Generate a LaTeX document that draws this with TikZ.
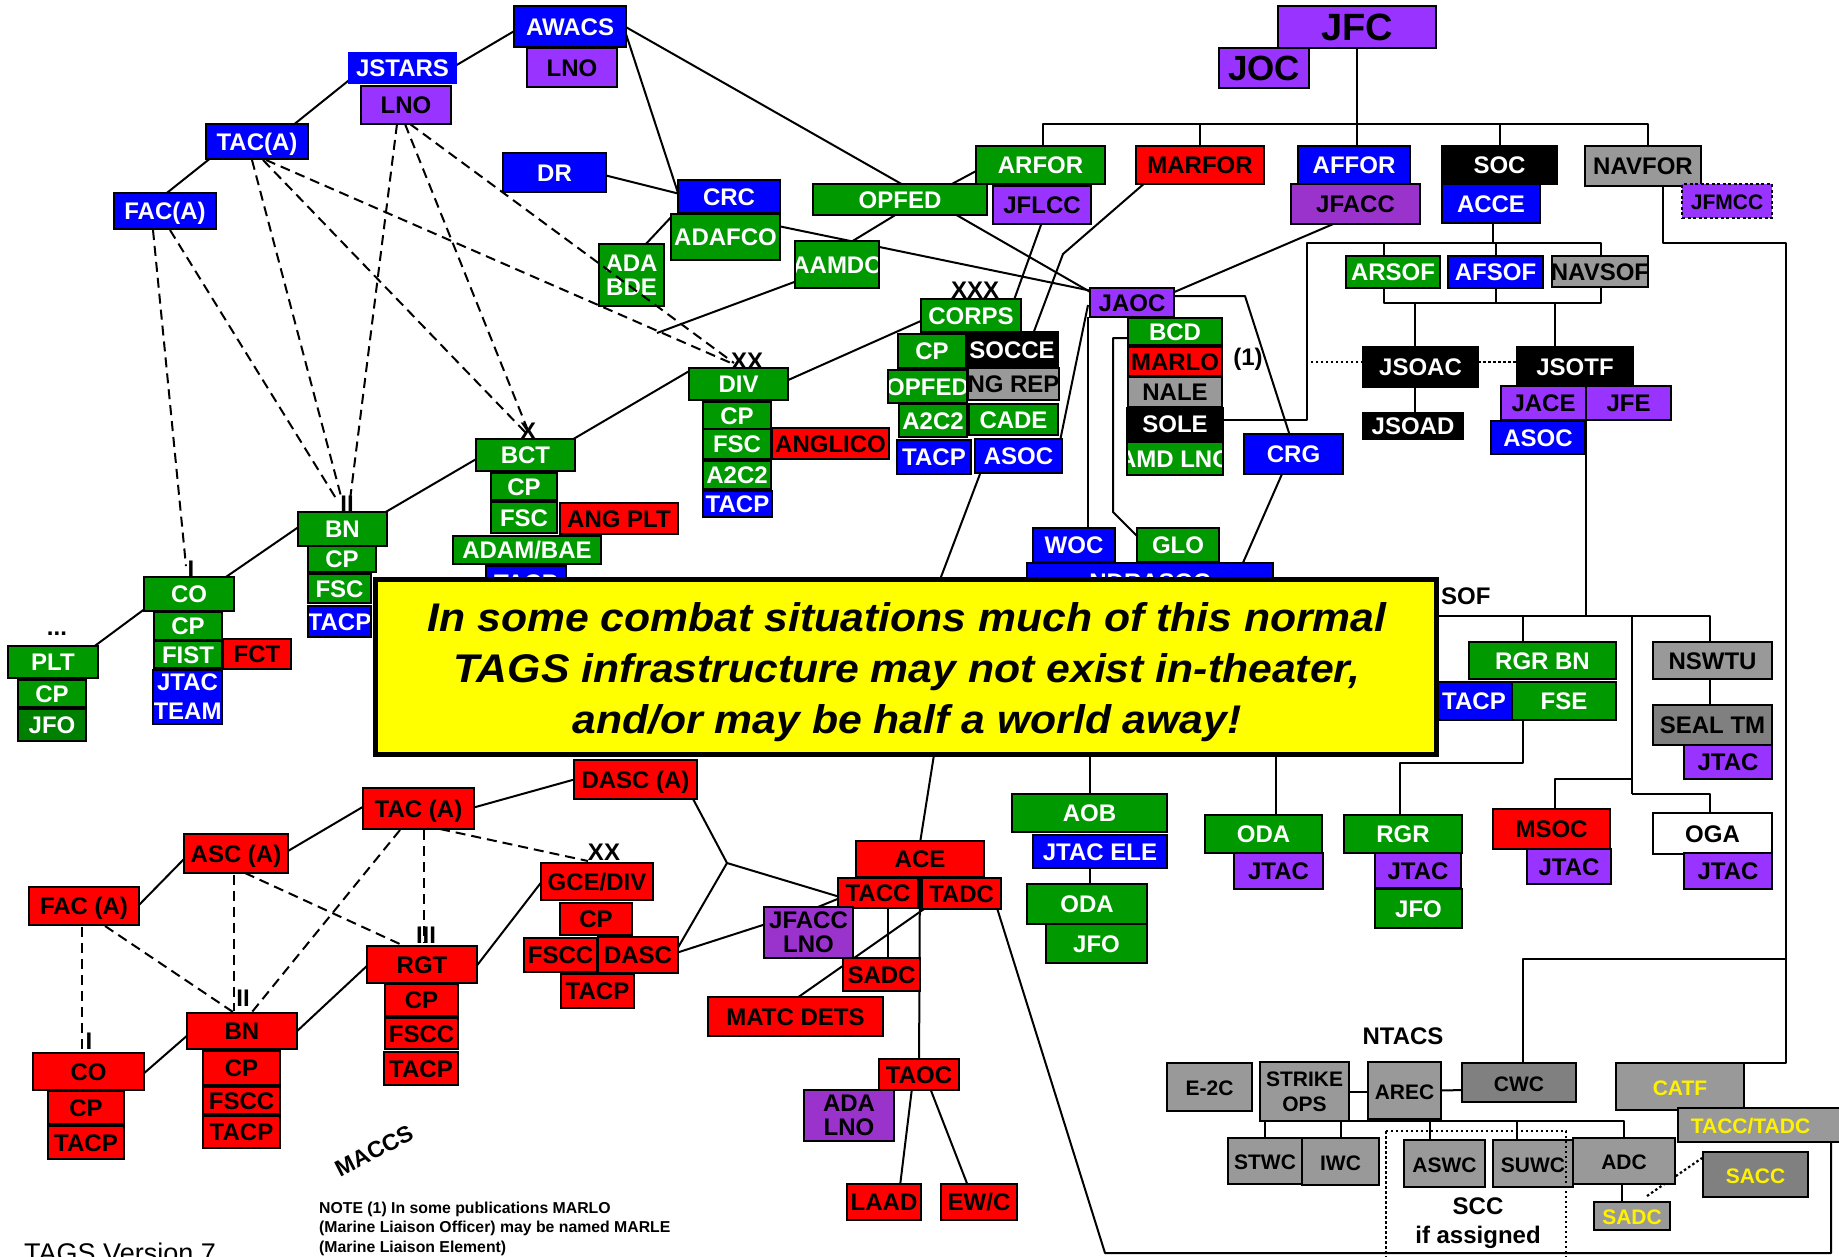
\documentclass[tikz,border=0pt]{standalone}
\usepackage{fontspec}
\setmainfont{Liberation Sans}
\usepackage{graphicx}
\usetikzlibrary{calc}
\definecolor{cblue}{RGB}{0,0,255}
\definecolor{cgreen}{RGB}{0,153,0}
\definecolor{cgreend}{RGB}{0,128,0}
\definecolor{cred}{RGB}{255,0,0}
\definecolor{cpurp}{RGB}{153,51,255}
\definecolor{cpurpd}{RGB}{153,51,204}
\definecolor{cgray}{RGB}{153,153,153}
\definecolor{cgrayd}{RGB}{128,128,128}
\definecolor{cyel}{RGB}{255,255,0}
\pgfdeclarelayer{bg}
\pgfsetlayers{bg,main}
\tikzset{
  bx/.style={rectangle,draw=black,line width=2.4pt,inner sep=0pt,outer sep=0pt},
  txt/.style={inner sep=0pt,outer sep=0pt,draw=none,fill=none,font=\bfseries\fontsize{24}{26}\selectfont,text height=17.2pt,text depth=0pt},
  txtm/.style={inner sep=0pt,outer sep=0pt,draw=none,fill=none,font=\bfseries\fontsize{24}{24}\selectfont,align=center},
  lbl/.style={inner sep=0pt,font=\bfseries\fontsize{24}{26}\selectfont},
  ln/.style={line width=2pt,line join=round},
  dsh/.style={line width=2pt,dash pattern=on 10pt off 6pt},
  dotl/.style={line width=2.2pt,dash pattern=on 2.5pt off 2.5pt},
}
\newcommand\nf{\bfseries\fontsize{21}{25}\selectfont}
\newcommand\mybox[9][]{%
  \node[bx,fill=#7,minimum width={(#5-#3)*1pt},minimum height={(#6-#4)*1pt},#1,
    path picture={\node[txt,text=#8,#1] at (path picture bounding box.center) {#9};}]
    (#2) at ({(#3+#5)/2},{(#4+#6)/2}) {};}
\newcommand\myboxm[9][]{%
  \node[bx,fill=#7,minimum width={(#5-#3)*1pt},minimum height={(#6-#4)*1pt},#1,
    path picture={\node[txtm,text=#8,#1] at (path picture bounding box.center) {#9};}]
    (#2) at ({(#3+#5)/2},{(#4+#6)/2}) {};}
\begin{document}
\begin{tikzpicture}[x=1pt,y=-1pt]
\begin{pgfonlayer}{bg}
\fill[white] (0,0) rectangle (1839,1256);
\end{pgfonlayer}
\useasboundingbox (0,0) rectangle (1839,1256);

% ---------- Army / air (top left)
\mybox[draw=none]{jstars}{348}{52}{457}{84}{cblue}{white}{JSTARS}
\mybox{jlno}{361}{86}{451}{124}{cpurp}{black}{LNO}
\mybox{taca}{206}{124}{308}{159}{cblue}{white}{TAC(A)}
\mybox{faca}{114}{193}{216}{229}{cblue}{white}{FAC(A)}
\mybox{awacs}{514}{6}{626}{47}{cblue}{white}{AWACS}
\mybox{alno}{527}{48}{617}{87}{cpurp}{black}{LNO}
\mybox{dr}{503}{153}{606}{192}{cblue}{white}{DR}
\mybox{crc}{678}{180}{780}{213}{cblue}{white}{CRC}
\mybox{adafco}{671}{214}{780}{260}{cgreen}{white}{ADAFCO}
\myboxm{adabde}{599}{244}{664}{306}{cgreen}{white}{ADA\\BDE}
\mybox{opfed}{813}{184}{987}{215}{cgreen}{white}{OPFED}
\mybox{aamdc}{795}{241}{879}{288}{cgreen}{white}{AAMDC}
\mybox{arfor}{976}{146}{1105}{184}{cgreen}{white}{ARFOR}
\mybox{jflcc}{993}{186}{1091}{224}{cpurp}{black}{JFLCC}
\mybox{marfor}{1136}{146}{1264}{184}{cred}{black}{MARFOR}
\mybox{affor}{1298}{146}{1410}{184}{cblue}{white}{AFFOR}
\mybox{jfacc}{1291}{184}{1420}{224}{cpurpd}{black}{JFACC}
\mybox{soc}{1442}{146}{1557}{184}{black}{white}{SOC}
\mybox{acce}{1442}{184}{1540}{223}{cblue}{white}{ACCE}
\mybox{navfor}{1585}{146}{1701}{186}{cgray}{black}{NAVFOR}
\mybox[dash pattern=on 3pt off 2.5pt,font=\nf]{jfmcc}{1682}{184}{1772}{218}{cpurp}{black}{JFMCC}
\myboxm[font=\bfseries\fontsize{38}{38}\selectfont]{jfc}{1278}{6}{1436}{48}{cpurp}{black}{JFC}
\myboxm[font=\bfseries\fontsize{35}{35}\selectfont]{joc}{1219}{48}{1309}{88}{cpurp}{black}{JOC}

% ---------- Corps
\mybox{corps}{921}{299}{1021}{332}{cgreen}{white}{CORPS}
\mybox{ccp}{898}{334}{966}{368}{cgreen}{white}{CP}
\mybox{socce}{966}{332}{1058}{368}{black}{white}{SOCCE}
\mybox{opfedb}{888}{370}{967}{403}{cgreen}{white}{OPFED}
\mybox{ngrep}{968}{368}{1059}{400}{cgray}{black}{NG REP}
\mybox{ca2c2}{899}{404}{967}{437}{cgreen}{white}{A2C2}
\mybox{cade}{969}{404}{1058}{435}{cgreen}{white}{CADE}
\mybox{ctacp}{897}{440}{971}{474}{cblue}{white}{TACP}
\mybox{asocc}{975}{439}{1062}{473}{cblue}{white}{ASOC}
% ---------- Div
\mybox{div}{689}{368}{788}{400}{cgreen}{white}{DIV}
\mybox{dcp}{703}{402}{771}{429}{cgreen}{white}{CP}
\mybox{dfsc}{703}{429}{771}{459}{cgreen}{white}{FSC}
\mybox{anglico}{772}{428}{889}{459}{cred}{black}{ANGLICO}
\mybox{da2c2}{703}{461}{771}{489}{cgreen}{white}{A2C2}
\mybox{dtacp}{703}{491}{772}{517}{cblue}{white}{TACP}
% ---------- BCT
\mybox{bct}{476}{439}{575}{471}{cgreen}{white}{BCT}
\mybox{bcp}{491}{473}{557}{500}{cgreen}{white}{CP}
\mybox{bfsc}{491}{502}{557}{533}{cgreen}{white}{FSC}
\mybox{angplt}{560}{503}{678}{534}{cred}{black}{ANG PLT}
\mybox{btacp}{486}{566}{566}{600}{cblue}{white}{TACP}
\mybox{adam}{453}{536}{601}{564}{cgreen}{white}{ADAM/BAE}
% ---------- BN
\mybox{bn}{298}{512}{387}{546}{cgreen}{white}{BN}
\mybox{ncp}{308}{546}{376}{572}{cgreen}{white}{CP}
\mybox{nfsc}{308}{574}{371}{603}{cgreen}{white}{FSC}
\mybox{ntacp}{308}{606}{371}{637}{cblue}{white}{TACP}
% ---------- CO
\mybox{co}{144}{577}{234}{611}{cgreen}{white}{CO}
\mybox{ocp}{154}{612}{222}{640}{cgreen}{white}{CP}
\mybox{fist}{154}{641}{222}{668}{cgreen}{white}{FIST}
\mybox{fct}{223}{639}{291}{669}{cred}{black}{FCT}
\myboxm{jtacteam}{153}{670}{222}{724}{cblue}{white}{JTAC\\[5pt]TEAM}
% ---------- PLT
\mybox{plt}{8}{646}{98}{678}{cgreen}{white}{PLT}
\mybox{pcp}{18}{680}{86}{707}{cgreen}{white}{CP}
\mybox{pjfo}{18}{709}{86}{741}{cgreend}{white}{JFO}

% ---------- JAOC
\mybox{jaoc}{1090}{288}{1174}{317}{cpurp}{black}{JAOC}
\mybox{bcd}{1128}{318}{1222}{345}{cgreen}{white}{BCD}
\mybox{marlo}{1128}{347}{1222}{376}{cred}{black}{MARLO}
\mybox{nale}{1128}{377}{1222}{407}{cgray}{black}{NALE}
\mybox{sole}{1127}{408}{1223}{440}{black}{white}{SOLE}
\mybox{amdlno}{1127}{442}{1223}{475}{cgreen}{white}{AMD LNO}
\mybox{crg}{1244}{434}{1343}{474}{cblue}{white}{CRG}
\mybox{ndr}{1027}{563}{1273}{600}{cblue}{white}{NDRASOC}
\mybox{woc}{1033}{528}{1115}{562}{cblue}{white}{WOC}
\mybox{glo}{1137}{528}{1219}{562}{cgreen}{white}{GLO}

% ---------- SOF
\mybox{arsof}{1346}{256}{1440}{288}{cgreen}{white}{ARSOF}
\mybox{afsof}{1448}{256}{1543}{288}{cblue}{white}{AFSOF}
\mybox{navsof}{1552}{256}{1648}{287}{cgray}{black}{NAVSOF}
\mybox{jsoac}{1363}{347}{1478}{387}{black}{white}{JSOAC}
\mybox{jsoad}{1363}{413}{1463}{439}{black}{white}{JSOAD}
\mybox{jsotf}{1517}{347}{1633}{386}{black}{white}{JSOTF}
\mybox{jace}{1501}{386}{1586}{420}{cpurp}{black}{JACE}
\mybox{jfe}{1586}{386}{1671}{420}{cpurp}{black}{JFE}
\mybox{sasoc}{1491}{421}{1585}{454}{cblue}{white}{ASOC}
\mybox{rgrbn}{1469}{642}{1616}{679}{cgreen}{white}{RGR BN}
\mybox{rtacp}{1436}{682}{1512}{720}{cblue}{white}{TACP}
\mybox{fse}{1512}{682}{1616}{720}{cgreen}{white}{FSE}
\mybox{nswtu}{1653}{642}{1772}{679}{cgray}{black}{NSWTU}
\mybox{sealtm}{1653}{705}{1772}{745}{cgrayd}{black}{SEAL TM}
\mybox{sjtac}{1684}{745}{1772}{779}{cpurp}{black}{JTAC}
\mybox{odaa}{1205}{815}{1322}{853}{cgreen}{white}{ODA}
\mybox{ojtac}{1234}{853}{1323}{889}{cpurp}{black}{JTAC}
\mybox{rgr}{1344}{815}{1462}{853}{cgreen}{white}{RGR}
\mybox{rjtac}{1375}{853}{1461}{888}{cpurp}{black}{JTAC}
\mybox{rjfo}{1375}{889}{1462}{928}{cgreen}{white}{JFO}
\mybox{msoc}{1493}{809}{1610}{849}{cred}{black}{MSOC}
\mybox{mjtac}{1527}{849}{1611}{884}{cpurp}{black}{JTAC}
\mybox{oga}{1653}{813}{1772}{854}{white}{black}{OGA}
\mybox{gjtac}{1684}{853}{1772}{889}{cpurp}{black}{JTAC}
\mybox{aob}{1012}{794}{1167}{832}{cgreen}{white}{AOB}
\mybox{jtacele}{1033}{835}{1167}{868}{cblue}{white}{JTAC ELE}
\mybox{odab}{1027}{884}{1147}{924}{cgreen}{white}{ODA}
\mybox{jfob}{1046}{924}{1147}{963}{cgreen}{white}{JFO}

% ---------- Navy
\mybox[font=\nf]{etwoc}{1167}{1063}{1252}{1111}{cgray}{black}{E-2C}
\myboxm[font=\nf]{strike}{1260}{1062}{1349}{1121}{cgray}{black}{STRIKE\\OPS}
\mybox[font=\nf]{arec}{1368}{1062}{1441}{1119}{cgray}{black}{AREC}
\mybox[font=\nf]{cwc}{1462}{1063}{1576}{1102}{cgrayd}{black}{CWC}
\mybox[font=\nf]{stwc}{1228}{1138}{1302}{1184}{cgray}{black}{STWC}
\mybox[font=\nf]{iwc}{1302}{1138}{1379}{1185}{cgray}{black}{IWC}
\mybox[font=\nf]{aswc}{1404}{1140}{1485}{1187}{cgray}{black}{ASWC}
\mybox[font=\nf]{suwc}{1493}{1140}{1573}{1187}{cgray}{black}{SUWC}
\mybox[font=\nf]{adc}{1573}{1138}{1675}{1184}{cgray}{black}{ADC}
\mybox[font=\nf]{nsadc}{1594}{1202}{1670}{1230}{cgray}{yellow}{SADC}
\mybox[font=\nf]{catf}{1616}{1063}{1744}{1110}{cgray}{yellow}{CATF}
\mybox[font=\nf]{tacctadc}{1678}{1108}{1843}{1142}{cgray}{yellow}{\hspace*{-20pt}TACC/TADC}
\mybox[font=\nf]{sacc}{1703}{1152}{1808}{1197}{cgrayd}{yellow}{SACC}

% ---------- USMC
\mybox{rfaca}{29}{887}{139}{925}{cred}{black}{FAC (A)}
\mybox{asca}{184}{834}{288}{873}{cred}{black}{ASC (A)}
\mybox{rtaca}{363}{788}{474}{829}{cred}{black}{TAC (A)}
\mybox{dasca}{574}{760}{697}{799}{cred}{black}{DASC (A)}
\mybox{rco}{33}{1053}{144}{1090}{cred}{black}{CO}
\mybox{rcocp}{48}{1091}{124}{1124}{cred}{black}{CP}
\mybox{rcotacp}{48}{1126}{124}{1159}{cred}{black}{TACP}
\mybox{rbn}{187}{1013}{297}{1049}{cred}{black}{BN}
\mybox{rbncp}{203}{1051}{280}{1085}{cred}{black}{CP}
\mybox{rbnfscc}{203}{1087}{280}{1114}{cred}{black}{FSCC}
\mybox{rbntacp}{203}{1116}{280}{1148}{cred}{black}{TACP}
\mybox{rgt}{367}{946}{477}{983}{cred}{black}{RGT}
\mybox{rgtcp}{385}{984}{458}{1016}{cred}{black}{CP}
\mybox{rgtfscc}{385}{1018}{458}{1049}{cred}{black}{FSCC}
\mybox{rgttacp}{384}{1052}{458}{1085}{cred}{black}{TACP}
\mybox{gce}{541}{863}{653}{900}{cred}{black}{GCE/DIV}
\mybox{gcp}{560}{903}{632}{935}{cred}{black}{CP}
\mybox{fscc}{524}{938}{597}{972}{cred}{black}{FSCC}
\mybox{dasc}{598}{937}{678}{973}{cred}{black}{DASC}
\mybox{gtacp}{561}{974}{634}{1008}{cred}{black}{TACP}
\mybox{ace}{856}{841}{984}{877}{cred}{black}{ACE}
\mybox{tacc}{838}{878}{918}{908}{cred}{black}{TACC}
\mybox{tadc}{922}{878}{1001}{909}{cred}{black}{TADC}
\myboxm{jfacclno}{764}{907}{853}{958}{cpurpd}{black}{JFACC\\LNO}
\mybox{sadc}{843}{958}{920}{991}{cred}{black}{SADC}
\mybox{matc}{708}{997}{883}{1036}{cred}{black}{MATC DETS}
\mybox{taoc}{879}{1059}{959}{1090}{cred}{black}{TAOC}
\myboxm{adalno}{804}{1090}{894}{1141}{cpurpd}{black}{ADA\\LNO}
\mybox{laad}{847}{1184}{921}{1220}{cred}{black}{LAAD}
\mybox{ewc}{941}{1184}{1017}{1220}{cred}{black}{EW/C}

% ---------- coordinates for bends / free ends
\coordinate (aamdcend) at (657,333);
\coordinate (jbL) at (1043,124); \coordinate (jbR) at (1648,124);
\coordinate (mb) at (1063,254);
\coordinate (cb) at (1245,296);
\coordinate (bg1) at (1113,338); \coordinate (bg2) at (1113,512);
\coordinate (hb1) at (905,672); \coordinate (hb2) at (949,660);
\coordinate (hob) at (1090,740); \coordinate (hoda) at (1276,740);
\coordinate (sbL) at (1307,243); \coordinate (sbR) at (1601,243);
\coordinate (accb) at ([shift={(51,0)}]acce.south west);
\coordinate (lbus) at (1500,303);
\coordinate (dj) at ([shift={(0,15)}]jsoac.north west);
\coordinate (fbusL) at (1420,616); \coordinate (fbusR) at (1710,616);
\coordinate (mo1) at (1632,779); \coordinate (mo2) at (1632,794);
\coordinate (fr) at (1460,763);
\coordinate (nv1) at (1786,243); \coordinate (nv2) at (1786,959);
\coordinate (bt1) at (1105,1253);
\coordinate (nb) at (1624,1121);
\coordinate (jn) at (727,863);

\begin{pgfonlayer}{bg}
% army air
\draw[ln] ([shift={(5,25)}]jstars.north west) -- ([shift={(86,2)}]taca.north west);
\draw[ln] ([shift={(6,33)}]taca.north west) -- ([shift={(49,3)}]faca.north west);
\draw[ln] ([shift={(107,14)}]jstars.north west) -- ([shift={(2,24)}]awacs.north west);
\draw[ln] ([shift={(110,22)}]awacs.north west) -- ([shift={(1,16)}]crc.north west);
\draw[ln] ([shift={(110,20)}]awacs.north west) -- ([shift={(92,2)}]opfed.north west);
\draw[ln] ([shift={(101,22)}]dr.north west) -- ([shift={(2,14)}]crc.north west);
\draw[ln] ([shift={(3,0)}]adafco.north west) -- ([shift={(45,2)}]adabde.north west);
\draw[ln] ([shift={(107,12)}]adafco.north west) -- ([shift={(2,3)}]jaoc.north west);
\draw[ln] ([shift={(84,30)}]opfed.north west) -- ([shift={(56,1)}]aamdc.north west);
\draw[ln] ([shift={(137,1)}]opfed.north west) -- ([shift={(2,24)}]arfor.north west);
\draw[ln] ([shift={(140,29)}]opfed.north west) -- ([shift={(2,5)}]jaoc.north west);
\draw[ln] ([shift={(2,40)}]aamdc.north west) -- (aamdcend);
% JFC bus
\draw[ln] (jfc.south) -- (jfc.south |- affor.north);
\draw[ln] (jbL |- arfor.north) -- (jbL) -- (jbR) -- (jbR |- navfor.north);
\draw[ln] (marfor.north) -- (marfor.north |- jbL);
\draw[ln] (soc.north) -- (soc.north |- jbL);
% army ground
\draw[ln] ([shift={(84,2)}]plt.north west) -- ([shift={(2,31)}]co.north west);
\draw[ln] ([shift={(79,2)}]co.north west) -- ([shift={(2,14)}]bn.north west);
\draw[ln] ([shift={(86,1)}]bn.north west) -- ([shift={(2,19)}]bct.north west);
\draw[ln] ([shift={(94,2)}]bct.north west) -- ([shift={(2,2)}]div.north west);
\draw[ln] ([shift={(97,13)}]div.north west) -- ([shift={(2,21)}]corps.north west);
\draw[ln] ([shift={(49,36)}]jflcc.north west) -- ([shift={(93,1)}]corps.north west);
\draw[ln] ([shift={(10,36)}]marfor.north west) -- (mb) -- ([shift={(67,2)}]socce.north west);
\draw[ln] ([shift={(47,38)}]jfacc.north west) -- ([shift={(82,5)}]jaoc.north west);
\draw[ln] ([shift={(82,8)}]jaoc.north west) -- (cb) -- ([shift={(46,2)}]crg.north west);
\draw[ln] ([shift={(-2,17)}]jaoc.north west) -- ([shift={(85,2)}]asocc.north west);
\draw[ln] ([shift={(-2,0)}]jaoc.south west) -- ([shift={(55,2)}]woc.north west);
\draw[ln] ([shift={(2,20)}]bcd.north west) -- (bg1) -- (bg2) -- ([shift={(2,10)}]glo.north west);
\draw[ln] ([shift={(5,35)}]asocc.north west) -- (hb1) -- (hb2) -- ([shift={(64,2)}]ace.north west);
\draw[ln] ([shift={(38,40)}]crg.north west) -- ([shift={(215,2)}]ndr.north west);
\draw[ln] (hob) -- ([shift={(78,2)}]aob.north west);
\draw[ln] (hoda) -- ([shift={(71,2)}]odaa.north west);
\draw[ln] ([shift={(57,31)}]jtacele.north west) -- ([shift={(63,2)}]odab.north west);
% SOF
\draw[ln] (accb) -- (accb |- sbL);
\draw[ln] ([shift={(-2,12)}]sole.north east) -| (sbL) -- (sbR) -- ([shift={(49,2)}]navsof.north west);
\draw[ln] ([shift={(38,2)}]arsof.north west) |- (sbL);
\draw[ln] (afsof.north) |- (sbL);
\draw[ln] ([shift={(38,-2)}]arsof.south west) |- (lbus) -| ([shift={(49,-2)}]navsof.south west);
\draw[ln] (afsof.south) |- (lbus);
\draw[ln] ([shift={(52,0)}]jsoac.north west) |- (lbus);
\draw[ln] ([shift={(38,0)}]jsotf.north west) |- (lbus);
\draw[ln] ([shift={(52,0)}]jsoac.south west) -- ([shift={(52,0)}]jsoad.north west);
\draw[dotl] (dj) -- (dj -| sbL);
\draw[dotl] ([shift={(0,15)}]jsoac.north east) -- ([shift={(0,15)}]jsotf.north west);
\draw[ln] (jace.south east) -- (jace.south east |- fbusL);
\draw[ln] (fbusL) -- (fbusR) -- ([shift={(57,2)}]nswtu.north west);
\draw[ln] ([shift={(54,2)}]rgrbn.north west) |- (fbusL);
\draw[ln] (mo2 |- fbusL) -- (mo2);
\draw[ln] (mo1) -| ([shift={(62,2)}]msoc.north west);
\draw[ln] (mo2) -| ([shift={(57,2)}]oga.north west);
\draw[ln] ([shift={(11,-2)}]fse.south west) |- (fr) -| ([shift={(56,2)}]rgr.north west);
\draw[ln] ([shift={(57,-2)}]nswtu.south west) -- ([shift={(57,2)}]sealtm.north west);
% navy
\draw[ln] ([shift={(78,-2)}]navfor.south west) |- (nv1) -- (nv1 |- catf.north east) -- (catf.north east);
\draw[ln] (nv2) -| ([shift={(61,2)}]cwc.north west);
\draw[ln] ([shift={(75,30)}]tadc.north west) -- (bt1) -| ([shift={(153,-2)}]tacctadc.south west);
\draw[ln] (arec.east) -- ([shift={(2,27)}]cwc.north west);
\draw[ln] ([shift={(-2,30)}]strike.north east) -- ([shift={(2,30)}]arec.north west);
\draw[ln] (strike.south east) -- (nb) -- ([shift={(51,2)}]adc.north west);
\draw[ln] ([shift={(26,2)}]aswc.north west) |- (nb);
\draw[ln] ([shift={(24,2)}]suwc.north west) |- (nb);
\draw[ln] ([shift={(5,0)}]strike.south west) -- ([shift={(37,2)}]stwc.north west);
\draw[ln] ([shift={(81,0)}]strike.south west) -- ([shift={(39,2)}]iwc.north west);
\draw[ln] ([shift={(49,-2)}]adc.south west) -- ([shift={(28,2)}]nsadc.north west);
\draw[dotl] ([shift={(53,-6)}]nsadc.north west) -- ([shift={(-1,6)}]sacc.north west);
% USMC
\draw[ln] ([shift={(108,20)}]rfaca.north west) -- ([shift={(1,24)}]asca.north west);
\draw[ln] ([shift={(104,17)}]asca.north west) -- ([shift={(3,17)}]rtaca.north west);
\draw[ln] ([shift={(109,20)}]rtaca.north west) -- ([shift={(2,19)}]dasca.north west);
\draw[ln] ([shift={(118,37)}]dasca.north west) -- (jn) -- ([shift={(78,14)}]dasc.north west);
\draw[ln] (jn) -- ([shift={(2,19)}]tacc.north west);
\draw[ln] ([shift={(78,16)}]dasc.north west) -- ([shift={(2,17)}]jfacclno.north west);
\draw[ln] ([shift={(49,2)}]jfacclno.north west) -- ([shift={(2,20)}]tacc.north west);
\draw[ln] ([shift={(50,28)}]tacc.north west) -- ([shift={(45,3)}]sadc.north west);
\draw[ln] ([shift={(89,1)}]matc.north west) -- ([shift={(2,31)}]tadc.north west);
\draw[ln] (ace.center) -- (taoc.center);
\draw[ln] ([shift={(33,29)}]taoc.north west) -- ([shift={(53,2)}]laad.north west);
\draw[ln] ([shift={(51,29)}]taoc.north west) -- ([shift={(27,2)}]ewc.north west);
\draw[ln] ([shift={(108,22)}]rgt.north west) -- ([shift={(2,17)}]gce.north west);
\draw[ln] ([shift={(109,22)}]rco.north west) -- ([shift={(2,21)}]rbn.north west);
\draw[ln] ([shift={(108,20)}]rbn.north west) -- ([shift={(2,18)}]rgt.north west);
\end{pgfonlayer}

% ---------- dashed (on top)
\draw[dsh] ([shift={(39,37)}]faca.north west) -- ([shift={(42,-11)}]co.north west);
\draw[dsh] ([shift={(56,37)}]faca.north west) -- ([shift={(39,-12)}]bn.north west);
\draw[dsh] ([shift={(46,36)}]taca.north west) -- ([shift={(44,-12)}]bn.north west);
\draw[dsh] ([shift={(57,36)}]taca.north west) -- ([shift={(50,-6)}]bct.north west);
\draw[dsh] ([shift={(60,36)}]taca.north west) -- ([shift={(42,-5)}]div.north west);
\draw[dsh] ([shift={(36,38)}]jlno.north west) -- ([shift={(52,-12)}]bn.north west);
\draw[dsh] ([shift={(44,38)}]jlno.north west) -- ([shift={(53,-6)}]bct.north west);
\draw[dsh] ([shift={(49,38)}]jlno.north west) -- ([shift={(45,-5)}]div.north west);
\draw[dsh] ([shift={(53,40)}]rfaca.north west) -- ([shift={(49,-3)}]rco.north west);
\draw[dsh] ([shift={(76,39)}]rfaca.north west) -- ([shift={(46,-1)}]rbn.north west);
\draw[dsh] ([shift={(50,41)}]asca.north west) -- ([shift={(47,-2)}]rbn.north west);
\draw[dsh] ([shift={(61,39)}]asca.north west) -- ([shift={(35,-1)}]rgt.north west);
\draw[dsh] ([shift={(37,42)}]rtaca.north west) -- ([shift={(65,-1)}]rbn.north west);
\draw[dsh] ([shift={(61,42)}]rtaca.north west) -- ([shift={(57,-3)}]rgt.north west);
\draw[dsh] ([shift={(77,41)}]rtaca.north west) -- ([shift={(47,-2)}]gce.north west);

% ---------- echelon markers and labels
\node[lbl] (m1) at (57,634) {...};
\node[lbl] (m2) at (191,569) {I};
\node[lbl] (m3) at (347,504) {II};
\node[lbl] (m4) at (528,431) {X};
\node[lbl] (m5) at (747,361) {XX};
\node[lbl] (m6) at (975,290) {XXX};
\node[lbl] (m7) at (1248,359) {(1)};
\node[lbl] (m8) at (89,1041) {I};
\node[lbl] (m9) at (243,998) {II};
\node[lbl] (m10) at (426,935) {III};
\node[lbl] (m11) at (604,852) {XX};
\node[lbl] (ntacs) at (1403,1036) {NTACS};
\node[lbl,font=\bfseries\fontsize{23}{25}\selectfont,rotate=27] (maccs) at (374,1151) {MACCS};
\node[lbl,anchor=base] (scc1) at (1478,1214) {SCC};
\node[lbl,anchor=base] (scc2) at (1478,1243) {if assigned};
\draw[dotl] (1386,1131) rectangle (1566,1262);
\node[anchor=base west,inner sep=0pt,font=\bfseries\fontsize{15.8}{19}\selectfont] (n1) at (319,1213) {NOTE (1) In some publications MARLO};
\node[anchor=base west,inner sep=0pt,font=\bfseries\fontsize{15.8}{19}\selectfont] (n2) at (319,1232) {(Marine Liaison Officer) may be named MARLE};
\node[anchor=base west,inner sep=0pt,font=\bfseries\fontsize{15.8}{19}\selectfont] (n3) at (319,1252) {(Marine Liaison Element)};
\node[anchor=base west,inner sep=0pt,font=\fontsize{27}{30}\selectfont] (ver) at (24,1262) {TAGS Version 7};

% ---------- yellow call-out
\node[draw=black,line width=5pt,fill=cyel,minimum width=1061pt,minimum height=175pt,inner sep=0pt] (warn) at (906,667) {};
\node[anchor=base,inner sep=0pt,font=\bfseries\itshape\fontsize{40}{51}\selectfont] (w1) at (907,631) {\scalebox{1.068}[1]{In some combat situations much of this normal}};
\node[anchor=base,inner sep=0pt,font=\bfseries\itshape\fontsize{40}{51}\selectfont] (w2) at (907,682) {\scalebox{1.068}[1]{TAGS infrastructure may not exist in-theater,}};
\node[anchor=base,inner sep=0pt,font=\bfseries\itshape\fontsize{40}{51}\selectfont] (w3) at (907,733) {\scalebox{1.068}[1]{and/or may be half a world away!}};
\node[lbl,anchor=west] (sof) at (1441,596) {SOF};
\end{tikzpicture}
\end{document}
